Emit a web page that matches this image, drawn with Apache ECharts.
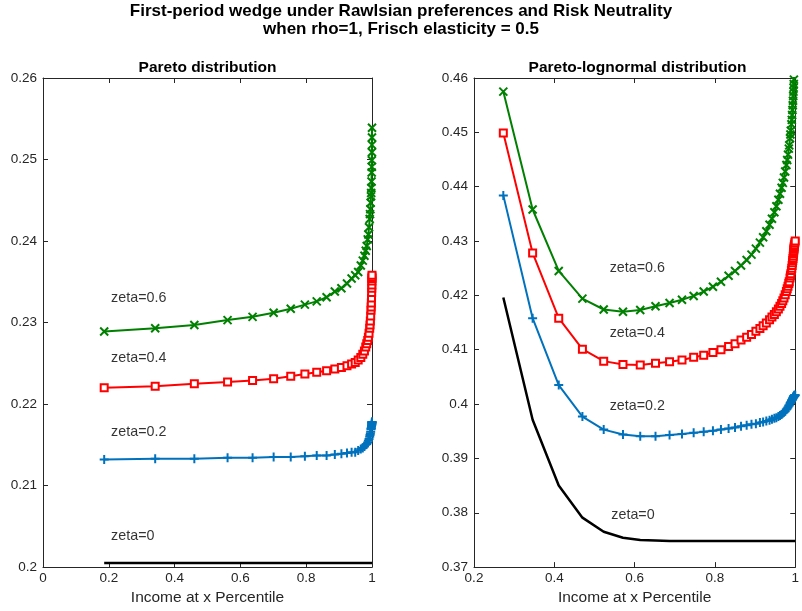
<!DOCTYPE html>
<html>
<head>
<meta charset="utf-8">
<script src="https://cdn.jsdelivr.net/npm/echarts@6/dist/echarts.min.js"></script>
<style>html,body{margin:0;padding:0;background:#fff;}#c{width:802px;height:611px;}</style>
</head>
<body>
<div id="c"></div>
<script>
// ---------- DATA ----------
const mainTitle1 = 'First-period wedge under Rawlsian preferences and Risk Neutrality';
const mainTitle2 = 'when rho=1, Frisch elasticity = 0.5';
const panelTitles = ['Pareto distribution', 'Pareto-lognormal distribution'];
const xAxisName = 'Income at x Percentile';

// tick definitions
const leftXTicks = [0, 0.2, 0.4, 0.6, 0.8, 1];
const leftYTicks = [0.2, 0.21, 0.22, 0.23, 0.24, 0.25, 0.26];
const rightXTicks = [0.2, 0.4, 0.6, 0.8, 1];
const rightYTicks = [0.37, 0.38, 0.39, 0.4, 0.41, 0.42, 0.43, 0.44, 0.45, 0.46];

// Left panel: Pareto distribution
const leftX = [0.186, 0.341, 0.460, 0.561, 0.637, 0.701, 0.753, 0.796, 0.832, 0.862,
  0.887, 0.907, 0.924, 0.938, 0.949, 0.958, 0.966, 0.972, 0.977, 0.981,
  0.984, 0.987, 0.989, 0.991, 0.993, 0.994, 0.995, 0.996, 0.997, 0.9975,
  0.998, 0.9985, 0.999, 0.9993, 0.9995, 0.9997, 0.9998, 0.9999, 1.0];
const leftZeta06 = [0.2289, 0.2293, 0.2297, 0.2303, 0.2307, 0.2312, 0.2317, 0.2322, 0.2326, 0.2331,
  0.2338, 0.2342, 0.2348, 0.2354, 0.2358, 0.2362, 0.2370, 0.2376, 0.2382, 0.2388,
  0.2394, 0.2402, 0.2408, 0.2417, 0.2427, 0.2433, 0.2439, 0.2447, 0.2455, 0.2459,
  0.2465, 0.2473, 0.2484, 0.2491, 0.2499, 0.2509, 0.2518, 0.2527, 0.2539];
const leftZeta04 = [0.2220, 0.2222, 0.2225, 0.2227, 0.2229, 0.2231, 0.2234, 0.2237, 0.2239, 0.2241,
  0.2243, 0.2245, 0.2247, 0.2249, 0.2251, 0.2254, 0.2257, 0.2261, 0.2265, 0.2270,
  0.2274, 0.2278, 0.2282, 0.2287, 0.2293, 0.2297, 0.2302, 0.2308, 0.2315, 0.2319,
  0.2324, 0.2330, 0.2337, 0.2342, 0.2346, 0.2351, 0.2354, 0.2356, 0.2358];
const leftZeta02 = [0.2132, 0.2133, 0.2133, 0.2134, 0.2134, 0.2135, 0.2135, 0.2136, 0.2137, 0.2137,
  0.2138, 0.2139, 0.2140, 0.2141, 0.2141, 0.2143, 0.2145, 0.2146, 0.2148, 0.2150,
  0.2151, 0.2153, 0.2155, 0.2157, 0.2160, 0.2162, 0.2164, 0.2166, 0.2169, 0.2170,
  0.2171, 0.2173, 0.2174, 0.2175, 0.2176, 0.2177, 0.2177, 0.2178, 0.2178];
const leftZeta0X = [0.186, 1.0];
const leftZeta0 = [0.2005, 0.2005];

// Right panel: Pareto-lognormal distribution
const rightX = [0.273, 0.346, 0.411, 0.470, 0.523, 0.571, 0.614, 0.652, 0.687, 0.718,
  0.747, 0.772, 0.795, 0.815, 0.834, 0.850, 0.865, 0.879, 0.891, 0.902,
  0.912, 0.920, 0.928, 0.936, 0.942, 0.948, 0.953, 0.958, 0.962, 0.966,
  0.969, 0.972, 0.975, 0.978, 0.980, 0.982, 0.984, 0.985, 0.987, 0.988,
  0.989, 0.9905, 0.9914, 0.9923, 0.9931, 0.9938, 0.9944, 0.995, 0.9955, 0.9959,
  0.9963, 0.9967, 0.997, 0.9975, 0.998, 0.999, 1.0];
const rightZeta06 = [0.4575, 0.4358, 0.4245, 0.4194, 0.4174, 0.4170, 0.4173, 0.4180, 0.4186, 0.4192,
  0.4199, 0.4207, 0.4216, 0.4225, 0.4236, 0.4245, 0.4255, 0.4265, 0.4275, 0.4286,
  0.4297, 0.4307, 0.4318, 0.4330, 0.4341, 0.4353, 0.4364, 0.4376, 0.4387, 0.4398,
  0.4407, 0.4417, 0.4428, 0.4440, 0.4449, 0.4459, 0.4470, 0.4476, 0.4489, 0.4496,
  0.4503, 0.4515, 0.4523, 0.4532, 0.4541, 0.4550, 0.4558, 0.4567, 0.4575, 0.4582,
  0.4589, 0.4597, 0.4603, 0.4613, 0.4625, 0.4650, 0.4680];
const rightZeta04 = [0.4499, 0.4278, 0.4158, 0.4101, 0.4079, 0.4073, 0.4072, 0.4075, 0.4078, 0.4081,
  0.4086, 0.4090, 0.4095, 0.4100, 0.4106, 0.4111, 0.4118, 0.4123, 0.4128, 0.4134,
  0.4139, 0.4144, 0.4149, 0.4155, 0.4160, 0.4165, 0.4170, 0.4175, 0.4180, 0.4185,
  0.4190, 0.4195, 0.4201, 0.4207, 0.4212, 0.4217, 0.4222, 0.4225, 0.4232, 0.4236,
  0.4240, 0.4246, 0.4250, 0.4255, 0.4260, 0.4264, 0.4268, 0.4272, 0.4276, 0.4279,
  0.4282, 0.4285, 0.4287, 0.4290, 0.4293, 0.4297, 0.4300];
const rightZeta02 = [0.4384, 0.4158, 0.4035, 0.3977, 0.3953, 0.3944, 0.3941, 0.3941, 0.3943, 0.3945,
  0.3947, 0.3949, 0.3951, 0.3953, 0.3955, 0.3957, 0.3959, 0.3961, 0.3963, 0.3964,
  0.3966, 0.3967, 0.3969, 0.3970, 0.3972, 0.3974, 0.3975, 0.3977, 0.3979, 0.3981,
  0.3983, 0.3985, 0.3987, 0.3990, 0.3992, 0.3994, 0.3997, 0.3998, 0.4001, 0.4002,
  0.4004, 0.4006, 0.4007, 0.4008, 0.4009, 0.4010, 0.4011, 0.4012, 0.4013, 0.4013,
  0.4014, 0.4014, 0.4015, 0.4015, 0.4016, 0.4016, 0.4016];
const rightZeta0X = [0.273, 0.346, 0.411, 0.470, 0.523, 0.571, 0.614, 0.652, 0.687, 0.718, 1.0];
const rightZeta0 = [0.4196, 0.3971, 0.3850, 0.3791, 0.3765, 0.3754, 0.3750, 0.3749, 0.3748, 0.3748, 0.3748];

// text annotations (data coordinates)
const annoText = ['zeta=0.6', 'zeta=0.4', 'zeta=0.2', 'zeta=0'];
const leftAnnoX = [0.207, 0.207, 0.207, 0.207];
const leftAnnoY = [0.2330, 0.2256, 0.2166, 0.2038];
const rightAnnoX = [0.538, 0.538, 0.538, 0.542];
const rightAnnoY = [0.4250, 0.4130, 0.3997, 0.3795];

// ---------- CHART ----------
const FONT = 'Liberation Sans';
const AX = '#262626';
const C_BLUE = '#0072BD', C_RED = '#FF0000', C_GREEN = '#008000', C_BLACK = '#000000';
const SYM_PLUS = 'path://M5 0 L5 10 M0 5 L10 5';
const SYM_X = 'path://M0 0 L10 10 M10 0 L0 10';

function pairs(xs, ys) { return xs.map((x, i) => [x, ys[i]]); }
function step(t) { return Math.round((t[1] - t[0]) * 1000) / 1000; }

function mkX(grid, ticks, pos, labels) {
  return {
    type: 'value', gridIndex: grid, position: pos,
    min: ticks[0], max: ticks[ticks.length - 1], interval: step(ticks),
    axisLine: { show: true, onZero: false, lineStyle: { color: AX, width: 1 } },
    axisTick: { show: true, inside: true, length: 5, lineStyle: { color: AX, width: 1 } },
    axisLabel: { show: labels, color: AX, fontSize: 13.5, fontFamily: FONT, margin: 4,
      formatter: v => String(parseFloat(v.toFixed(3))) },
    splitLine: { show: false },
    name: labels ? xAxisName : '', nameLocation: 'middle', nameGap: 17,
    nameTextStyle: { color: AX, fontSize: 15.5, fontFamily: FONT }
  };
}
function mkY(grid, ticks, pos, labels) {
  return {
    type: 'value', gridIndex: grid, position: pos,
    min: ticks[0], max: ticks[ticks.length - 1], interval: step(ticks),
    axisLine: { show: true, onZero: false, lineStyle: { color: AX, width: 1 } },
    axisTick: { show: true, inside: true, length: 5, lineStyle: { color: AX, width: 1 } },
    axisLabel: { show: labels, color: AX, fontSize: 13.5, fontFamily: FONT, margin: 6,
      formatter: v => String(parseFloat(v.toFixed(3))) },
    splitLine: { show: false }
  };
}
function lineSeries(xi, yi, xs, ys, color, symbol, size, width, z, bw) {
  return {
    type: 'line', xAxisIndex: xi, yAxisIndex: yi, data: pairs(xs, ys),
    lineStyle: { color: color, width: width }, z: z,
    symbol: symbol || 'none', symbolSize: size, showSymbol: !!symbol,
    itemStyle: { color: color, borderColor: color, borderWidth: bw || 2 },
    emphasis: { disabled: true }, silent: true, clip: true
  };
}
function annoSeries(xi, yi, xs, ys) {
  return {
    type: 'scatter', xAxisIndex: xi, yAxisIndex: yi, symbolSize: 0, silent: true, z: 10,
    data: xs.map((x, i) => ({ value: [x, ys[i]], name: annoText[i] })),
    label: { show: true, position: 'right', distance: 0, formatter: p => p.name,
      color: '#000', fontSize: 14.3, fontFamily: FONT }
  };
}

const chart = echarts.init(document.getElementById('c'), null, { renderer: 'canvas' });
chart.setOption({
  animation: false,
  backgroundColor: '#fff',
  grid: [
    { left: 43, top: 78, width: 329, height: 494 },
    { left: 474, top: 78, width: 327, height: 494 }
  ],
  xAxis: [
    mkX(0, leftXTicks, 'bottom', true), mkX(0, leftXTicks, 'top', false),
    mkX(1, rightXTicks, 'bottom', true), mkX(1, rightXTicks, 'top', false)
  ],
  yAxis: [
    mkY(0, leftYTicks, 'left', true), mkY(0, leftYTicks, 'right', false),
    mkY(1, rightYTicks, 'left', true), mkY(1, rightYTicks, 'right', false)
  ],
  graphic: [
    { type: 'text', x: 401, y: 11, style: { text: mainTitle1, textAlign: 'center', textVerticalAlign: 'middle', font: 'bold 17px "Liberation Sans"', fill: '#000' } },
    { type: 'text', x: 401, y: 29, style: { text: mainTitle2, textAlign: 'center', textVerticalAlign: 'middle', font: 'bold 17px "Liberation Sans"', fill: '#000' } },
    { type: 'text', x: 207.5, y: 68, style: { text: panelTitles[0], textAlign: 'center', textVerticalAlign: 'middle', font: 'bold 15.5px "Liberation Sans"', fill: '#000' } },
    { type: 'text', x: 637.5, y: 68, style: { text: panelTitles[1], textAlign: 'center', textVerticalAlign: 'middle', font: 'bold 15.5px "Liberation Sans"', fill: '#000' } }
  ],
  series: [
    lineSeries(0, 0, leftZeta0X, leftZeta0, C_BLACK, null, 0, 2.5, 2),
    lineSeries(0, 0, leftX, leftZeta02, C_BLUE, SYM_PLUS, 9, 2, 3, 2),
    lineSeries(0, 0, leftX, leftZeta04, C_RED, 'emptyRect', 7, 2, 4, 1.8),
    lineSeries(0, 0, leftX, leftZeta06, C_GREEN, SYM_X, 8, 2, 5, 2),
    annoSeries(0, 0, leftAnnoX, leftAnnoY),
    lineSeries(2, 2, rightZeta0X, rightZeta0, C_BLACK, null, 0, 2.5, 2),
    lineSeries(2, 2, rightX, rightZeta02, C_BLUE, SYM_PLUS, 9, 2, 3, 2),
    lineSeries(2, 2, rightX, rightZeta04, C_RED, 'emptyRect', 7, 2, 4, 1.8),
    lineSeries(2, 2, rightX, rightZeta06, C_GREEN, SYM_X, 8, 2, 5, 2),
    annoSeries(2, 2, rightAnnoX, rightAnnoY)
  ]
});
</script>
</body>
</html>
